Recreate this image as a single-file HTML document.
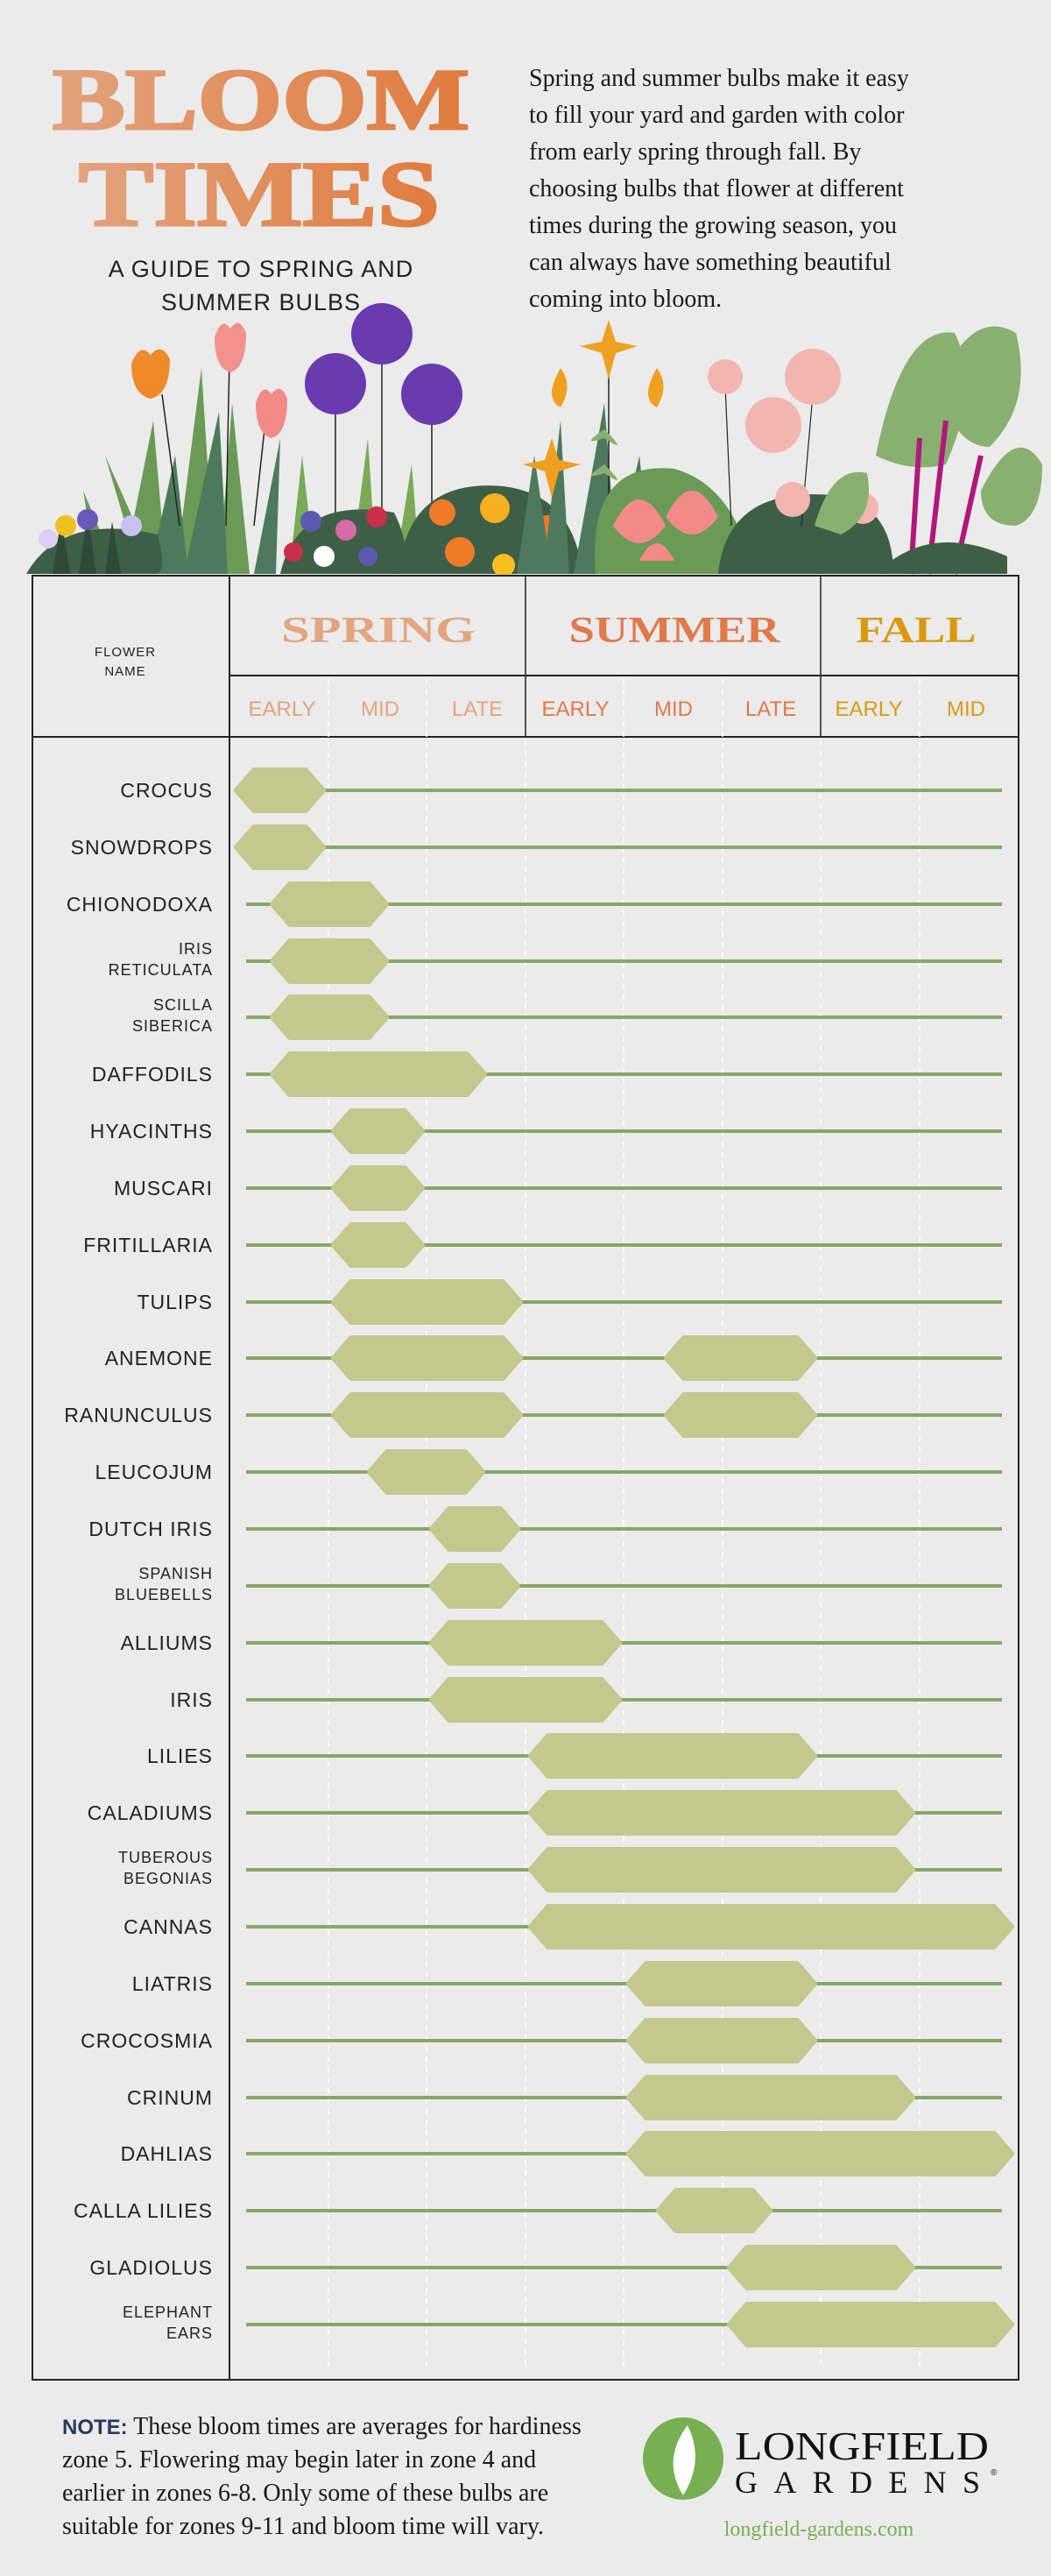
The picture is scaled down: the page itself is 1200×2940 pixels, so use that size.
<!DOCTYPE html>
<html><head><meta charset="utf-8"><style>
html,body{margin:0;padding:0;background:#ebebeb;}
svg{display:block}
.t{font-family:"Liberation Serif",serif;font-weight:bold;}
.nm{font-family:"Liberation Sans",sans-serif;font-size:23px;fill:#222;text-anchor:end;letter-spacing:1px}
.nm2{font-family:"Liberation Sans",sans-serif;font-size:18px;fill:#222;text-anchor:end;letter-spacing:1px}
.sub{font-family:"Liberation Sans Narrow","Liberation Sans",sans-serif;font-size:24px;text-anchor:middle}
.p{font-family:"Liberation Serif",serif;font-size:28px;fill:#1a1a1a}
.b{fill:#c2c98c;stroke:#c2c98c;stroke-width:6;stroke-linejoin:round}
.l{stroke:#86a866;stroke-width:4}
</style></head><body>
<svg width="1200" height="2940" viewBox="0 0 1200 2940" xmlns="http://www.w3.org/2000/svg">
<defs>
<linearGradient id="tg" x1="0" x2="1" y1="0" y2="0"><stop offset="0" stop-color="#e2a27c"/><stop offset="1" stop-color="#e07c3e"/></linearGradient>
</defs>
<rect width="1200" height="2940" fill="#ebebeb"/>
<!-- title -->
<text class="t" x="60" y="147" font-size="100" fill="url(#tg)" stroke="url(#tg)" stroke-width="3" textLength="476" lengthAdjust="spacingAndGlyphs">BLOOM</text>
<text class="t" x="90" y="257" font-size="106" fill="url(#tg)" stroke="url(#tg)" stroke-width="3" textLength="412" lengthAdjust="spacingAndGlyphs">TIMES</text>
<text x="298" y="316" font-family="Liberation Sans,sans-serif" font-size="27" fill="#222" text-anchor="middle" letter-spacing="1">A GUIDE TO SPRING AND</text>
<text x="298" y="354" font-family="Liberation Sans,sans-serif" font-size="27" fill="#222" text-anchor="middle" letter-spacing="1">SUMMER BULBS</text>
<g class="p">
<text x="604" y="98">Spring and summer bulbs make it easy</text>
<text x="604" y="140">to fill your yard and garden with color</text>
<text x="604" y="182">from early spring through fall. By</text>
<text x="604" y="224">choosing bulbs that flower at different</text>
<text x="604" y="266">times during the growing season, you</text>
<text x="604" y="308">can always have something beautiful</text>
<text x="604" y="350">coming into bloom.</text>
</g>
<!-- flowers illustration (simplified) -->
<g>
<path d="M140 655 L175 480 L190 655Z M200 655 L230 420 L245 655Z M250 655 L265 460 L285 655Z M160 655 L120 520 L180 655Z M110 655 L95 560 L135 655Z" fill="#6a9a55"/>
<path d="M210 655 L250 470 L260 655Z M290 655 L320 500 L315 655Z M170 655 L200 520 L215 655Z" fill="#4d7a5c"/>
<path d="M330 655 L345 520 L360 655Z M400 655 L420 500 L430 655Z M450 655 L470 530 L480 655Z" fill="#7aaa55"/>
<line x1="185" y1="450" x2="205" y2="600" stroke="#222" stroke-width="1.5"/>
<line x1="262" y1="410" x2="258" y2="600" stroke="#222" stroke-width="1.5"/>
<line x1="302" y1="490" x2="290" y2="600" stroke="#222" stroke-width="1.5"/>
<path d="M150 415 q10 -25 22 -10 q12 -15 22 5 q0 40 -22 45 q-22 -5 -22 -40z" fill="#ef8a2a"/>
<path d="M245 385 q8 -25 18 -10 q10 -15 18 5 q0 40 -18 45 q-18 -5 -18 -40z" fill="#f2928c"/>
<path d="M292 460 q8 -25 18 -10 q10 -15 18 5 q0 40 -18 45 q-18 -5 -18 -40z" fill="#f28a88"/>
<line x1="436" y1="400" x2="436" y2="600" stroke="#222" stroke-width="1.5"/>
<line x1="383" y1="460" x2="383" y2="620" stroke="#222" stroke-width="1.5"/>
<line x1="493" y1="470" x2="493" y2="620" stroke="#222" stroke-width="1.5"/>
<circle cx="436" cy="381" r="35" fill="#6a3ab0"/><circle cx="383" cy="438" r="35" fill="#6a3ab0"/><circle cx="493" cy="450" r="35" fill="#6a3ab0"/>
<path d="M30 655 q40 -70 150 -45 q10 40 0 45z" fill="#3d5f46"/>
<path d="M60 655 L70 590 L80 655Z M90 655 L100 585 L110 655Z M120 655 L128 595 L138 655Z" fill="#2f4a38"/>
<circle cx="75" cy="600" r="12" fill="#f0c020"/><circle cx="100" cy="593" r="12" fill="#6a5ab8"/><circle cx="150" cy="600" r="12" fill="#c9c2f0"/><circle cx="55" cy="615" r="11" fill="#d8d0f5"/>
<path d="M320 655 q20 -90 130 -70 q20 40 10 70z" fill="#3d5f46"/>
<circle cx="355" cy="595" r="12" fill="#5a5ab0"/><circle cx="395" cy="605" r="12" fill="#d76aa8"/><circle cx="430" cy="590" r="12" fill="#c8304a"/><circle cx="370" cy="635" r="12" fill="#fff"/><circle cx="335" cy="630" r="11" fill="#c8304a"/><circle cx="420" cy="635" r="11" fill="#5a5ab0"/>
<path d="M455 655 q10 -110 120 -100 q80 10 90 100z" fill="#3d5f46"/>
<circle cx="505" cy="585" r="15" fill="#ef7a28"/><circle cx="565" cy="580" r="17" fill="#f7b020"/><circle cx="625" cy="605" r="17" fill="#ef7a28"/><circle cx="525" cy="630" r="17" fill="#ef7a28"/><circle cx="575" cy="645" r="13" fill="#f7c020"/>
<path d="M590 655 L610 520 L630 655Z M655 655 L690 460 L705 655Z M700 655 L730 520 L745 655Z M620 655 L640 480 L650 655Z" fill="#4d7a5c"/>
<line x1="695" y1="400" x2="695" y2="640" stroke="#222" stroke-width="1.5"/>
<path d="M695 365 l8 25 25 5 -25 8 -8 30 -8 -30 -25 -8 25 -5z" fill="#f0a020"/>
<path d="M630 500 l8 25 25 5 -25 8 -8 30 -8 -30 -25 -8 25 -5z" fill="#f0a020"/>
<path d="M640 420 q15 20 0 45 q-20 -10 0 -45z M750 420 q15 20 0 45 q-20 -10 0 -45z" fill="#f0a020"/>
<path d="M690 490 q-30 20 0 10 q30 20 0 -10z M690 530 q-30 20 0 10 q30 20 0 -10z" fill="#8ab070"/>
<path d="M680 655 q-10 -130 90 -120 q70 20 90 120z" fill="#6a9a55"/>
<path d="M700 600 q30 -60 60 0 q-30 40 -60 0z M760 590 q30 -60 60 0 q-30 40 -60 0z M730 640 q20 -40 40 0z" fill="#f28a88"/>
<path d="M820 655 q10 -100 130 -90 q70 10 70 90z" fill="#3d5f46"/>
<line x1="828" y1="440" x2="835" y2="600" stroke="#222" stroke-width="1.2"/>
<line x1="928" y1="450" x2="915" y2="600" stroke="#222" stroke-width="1.2"/>
<circle cx="828" cy="430" r="20" fill="#f3b5b0"/><circle cx="928" cy="430" r="32" fill="#f3b5b0"/><circle cx="883" cy="485" r="32" fill="#f3b5b0"/><circle cx="905" cy="570" r="20" fill="#f3b5b0"/><circle cx="985" cy="580" r="18" fill="#f3b5b0"/>
<path d="M1000 520 q30 -150 90 -140 q30 60 -10 150 q-40 10 -80 -10z" fill="#8ab070"/>
<path d="M1070 440 q40 -90 90 -60 q20 80 -30 130 q-40 0 -60 -70z" fill="#8ab070"/>
<path d="M1120 560 q40 -80 70 -30 q0 60 -30 70 q-40 0 -40 -40z" fill="#8ab070"/>
<path d="M930 600 q20 -70 60 -60 q10 50 -30 70z" fill="#8ab070"/>
<path d="M1040 655 L1050 500 M1060 655 L1080 480 M1090 655 L1120 520" stroke="#b0187a" stroke-width="6"/>
<path d="M1000 655 q60 -60 150 -20 l0 20z" fill="#3d5f46"/>
</g>
<!-- table -->
<rect x="37" y="657" width="1126" height="2059" fill="none" stroke="#222" stroke-width="2"/>
<line x1="262" y1="657" x2="262" y2="2716" stroke="#222" stroke-width="2"/>
<line x1="262" y1="771" x2="1163" y2="771" stroke="#222" stroke-width="2"/>
<line x1="37" y1="841" x2="1163" y2="841" stroke="#222" stroke-width="2"/>
<line x1="600" y1="657" x2="600" y2="841" stroke="#222" stroke-width="1.5"/>
<line x1="937" y1="657" x2="937" y2="841" stroke="#222" stroke-width="1.5"/>
<g stroke="#fff" stroke-width="1.5" stroke-dasharray="6 6">
<line x1="375" y1="775" x2="375" y2="2700"/><line x1="487" y1="775" x2="487" y2="2700"/>
<line x1="600" y1="845" x2="600" y2="2700"/><line x1="712" y1="775" x2="712" y2="2700"/>
<line x1="825" y1="775" x2="825" y2="2700"/><line x1="937" y1="845" x2="937" y2="2700"/>
<line x1="1050" y1="775" x2="1050" y2="2700"/>
</g>
<text x="143" y="749" font-family="Liberation Sans,sans-serif" font-size="15" fill="#222" text-anchor="middle" letter-spacing="1">FLOWER</text>
<text x="143" y="771" font-family="Liberation Sans,sans-serif" font-size="15" fill="#222" text-anchor="middle" letter-spacing="1">NAME</text>
<text class="t" x="432" y="733" font-size="42" fill="#e3a57f" text-anchor="middle" textLength="222" lengthAdjust="spacingAndGlyphs">SPRING</text>
<text class="t" x="770" y="733" font-size="42" fill="#e07a4a" text-anchor="middle" textLength="241" lengthAdjust="spacingAndGlyphs">SUMMER</text>
<text class="t" x="1046" y="733" font-size="42" fill="#d99a10" text-anchor="middle" textLength="137" lengthAdjust="spacingAndGlyphs">FALL</text>
<g class="sub">
<text x="322" y="817" fill="#e3a57f">EARLY</text><text x="434" y="817" fill="#e3a57f">MID</text><text x="545" y="817" fill="#e3a57f">LATE</text>
<text x="657" y="817" fill="#e07a4a">EARLY</text><text x="769" y="817" fill="#e07a4a">MID</text><text x="880" y="817" fill="#e07a4a">LATE</text>
<text x="992" y="817" fill="#d99a10">EARLY</text><text x="1103" y="817" fill="#d99a10">MID</text>
</g>
<!-- lines -->
<g class="l">
<line x1="281" y1="902" x2="1144" y2="902"/><line x1="281" y1="967" x2="1144" y2="967"/>
<line x1="281" y1="1032" x2="1144" y2="1032"/><line x1="281" y1="1097" x2="1144" y2="1097"/>
<line x1="281" y1="1161" x2="1144" y2="1161"/><line x1="281" y1="1226" x2="1144" y2="1226"/>
<line x1="281" y1="1291" x2="1144" y2="1291"/><line x1="281" y1="1356" x2="1144" y2="1356"/>
<line x1="281" y1="1421" x2="1144" y2="1421"/><line x1="281" y1="1486" x2="1144" y2="1486"/>
<line x1="281" y1="1550" x2="1144" y2="1550"/><line x1="281" y1="1615" x2="1144" y2="1615"/>
<line x1="281" y1="1680" x2="1144" y2="1680"/><line x1="281" y1="1745" x2="1144" y2="1745"/>
<line x1="281" y1="1810" x2="1144" y2="1810"/><line x1="281" y1="1875" x2="1144" y2="1875"/>
<line x1="281" y1="1940" x2="1144" y2="1940"/><line x1="281" y1="2004" x2="1144" y2="2004"/>
<line x1="281" y1="2069" x2="1144" y2="2069"/><line x1="281" y1="2134" x2="1144" y2="2134"/>
<line x1="281" y1="2199" x2="1144" y2="2199"/><line x1="281" y1="2264" x2="1144" y2="2264"/>
<line x1="281" y1="2329" x2="1144" y2="2329"/><line x1="281" y1="2394" x2="1144" y2="2394"/>
<line x1="281" y1="2458" x2="1144" y2="2458"/><line x1="281" y1="2523" x2="1144" y2="2523"/>
<line x1="281" y1="2588" x2="1144" y2="2588"/><line x1="281" y1="2653" x2="1144" y2="2653"/>
</g>
<!-- bars -->
<g class="b">
<polygon points="270,902 290,879 349,879 369,902 349,925 290,925"/>
<polygon points="270,967 290,944 349,944 369,967 349,990 290,990"/>
<polygon points="311,1032 331,1009 421,1009 441,1032 421,1055 331,1055"/>
<polygon points="311,1097 331,1074 421,1074 441,1097 421,1120 331,1120"/>
<polygon points="311,1161 331,1138 421,1138 441,1161 421,1184 331,1184"/>
<polygon points="311,1226 331,1203 533,1203 553,1226 533,1249 331,1249"/>
<polygon points="381,1291 401,1268 462,1268 482,1291 462,1314 401,1314"/>
<polygon points="381,1356 401,1333 462,1333 482,1356 462,1379 401,1379"/>
<polygon points="381,1421 401,1398 462,1398 482,1421 462,1444 401,1444"/>
<polygon points="381,1486 401,1463 574,1463 594,1486 574,1509 401,1509"/>
<polygon points="381,1550 401,1527 574,1527 594,1550 574,1573 401,1573"/>
<polygon points="761,1550 781,1527 910,1527 930,1550 910,1573 781,1573"/>
<polygon points="381,1615 401,1592 574,1592 594,1615 574,1638 401,1638"/>
<polygon points="761,1615 781,1592 910,1592 930,1615 910,1638 781,1638"/>
<polygon points="422,1680 442,1657 531,1657 551,1680 531,1703 442,1703"/>
<polygon points="493,1745 513,1722 571,1722 591,1745 571,1768 513,1768"/>
<polygon points="493,1810 513,1787 571,1787 591,1810 571,1833 513,1833"/>
<polygon points="493,1875 513,1852 687,1852 707,1875 687,1898 513,1898"/>
<polygon points="493,1940 513,1917 687,1917 707,1940 687,1963 513,1963"/>
<polygon points="606,2004 626,1981 910,1981 930,2004 910,2027 626,2027"/>
<polygon points="606,2069 626,2046 1022,2046 1042,2069 1022,2092 626,2092"/>
<polygon points="606,2134 626,2111 1022,2111 1042,2134 1022,2157 626,2157"/>
<polygon points="606,2199 626,2176 1135,2176 1155,2199 1135,2222 626,2222"/>
<polygon points="718,2264 738,2241 910,2241 930,2264 910,2287 738,2287"/>
<polygon points="718,2329 738,2306 910,2306 930,2329 910,2352 738,2352"/>
<polygon points="718,2394 738,2371 1022,2371 1042,2394 1022,2417 738,2417"/>
<polygon points="718,2458 738,2435 1135,2435 1155,2458 1135,2481 738,2481"/>
<polygon points="752,2523 772,2500 859,2500 879,2523 859,2546 772,2546"/>
<polygon points="833,2588 853,2565 1022,2565 1042,2588 1022,2611 853,2611"/>
<polygon points="833,2653 853,2630 1135,2630 1155,2653 1135,2676 853,2676"/>
</g>
<!-- names -->
<g class="nm">
<text x="243" y="910">CROCUS</text><text x="243" y="975">SNOWDROPS</text><text x="243" y="1040">CHIONODOXA</text>
<text x="243" y="1234">DAFFODILS</text><text x="243" y="1299">HYACINTHS</text><text x="243" y="1364">MUSCARI</text>
<text x="243" y="1429">FRITILLARIA</text><text x="243" y="1494">TULIPS</text><text x="243" y="1558">ANEMONE</text>
<text x="243" y="1623">RANUNCULUS</text><text x="243" y="1688">LEUCOJUM</text><text x="243" y="1753">DUTCH IRIS</text>
<text x="243" y="1883">ALLIUMS</text><text x="243" y="1948">IRIS</text><text x="243" y="2012">LILIES</text>
<text x="243" y="2077">CALADIUMS</text><text x="243" y="2207">CANNAS</text><text x="243" y="2272">LIATRIS</text>
<text x="243" y="2337">CROCOSMIA</text><text x="243" y="2402">CRINUM</text><text x="243" y="2466">DAHLIAS</text>
<text x="243" y="2531">CALLA LILIES</text><text x="243" y="2596">GLADIOLUS</text>
</g>
<g class="nm2">
<text x="243" y="1089">IRIS</text><text x="243" y="1113">RETICULATA</text>
<text x="243" y="1153">SCILLA</text><text x="243" y="1177">SIBERICA</text>
<text x="243" y="1802">SPANISH</text><text x="243" y="1826">BLUEBELLS</text>
<text x="243" y="2126">TUBEROUS</text><text x="243" y="2150">BEGONIAS</text>
<text x="243" y="2645">ELEPHANT</text><text x="243" y="2669">EARS</text>
</g>
<!-- footer -->
<g class="p" font-size="26">
<text x="71" y="2778"><tspan font-family="Liberation Sans Narrow,Liberation Sans,sans-serif" font-weight="bold" fill="#2a3a5a" font-size="24">NOTE:</tspan> These bloom times are averages for hardiness</text>
<text x="71" y="2816">zone 5. Flowering may begin later in zone 4 and</text>
<text x="71" y="2854">earlier in zones 6-8. Only some of these bulbs are</text>
<text x="71" y="2892">suitable for zones 9-11 and bloom time will vary.</text>
</g>
<ellipse cx="780" cy="2806" rx="46" ry="47" fill="#76b052"/>
<path d="M785 2768 q-30 40 -5 80 q25 -40 5 -80z" fill="#fff"/>
<text x="839" y="2807" font-family="Liberation Serif,serif" font-size="46" fill="#111" textLength="290" lengthAdjust="spacingAndGlyphs">LONGFIELD</text>
<text x="839" y="2845" font-family="Liberation Serif,serif" font-size="36" fill="#111" textLength="280" lengthAdjust="spacing">GARDENS</text>
<text x="1131" y="2825" font-family="Liberation Sans,sans-serif" font-size="10" fill="#111">®</text>
<text x="935" y="2894" font-family="Liberation Serif,serif" font-size="24" fill="#76b052" text-anchor="middle">longfield-gardens.com</text>
</svg>
</body></html>
